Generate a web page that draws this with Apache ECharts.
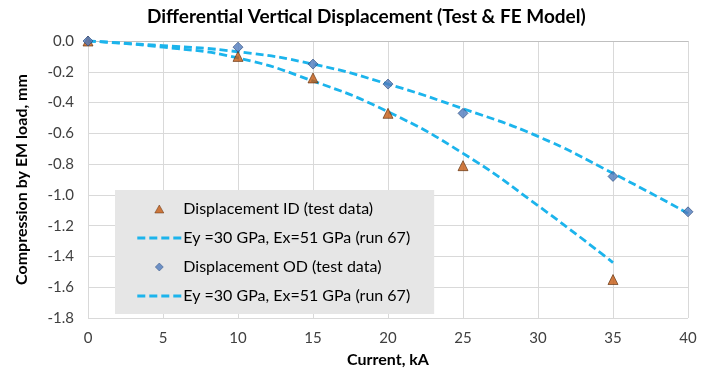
<!DOCTYPE html>
<html>
<head>
<meta charset="utf-8">
<script src="https://cdn.jsdelivr.net/npm/echarts@6/dist/echarts.min.js"></script>
<style>
  html, body { margin: 0; padding: 0; background: #fff; }
  #chart { width: 711px; height: 373px; }
</style>
</head>
<body>
<div id="chart"></div>
<script>
// test data (current kA, displacement mm)
var idTestX = [0, 10, 15, 20, 25, 35];
var idTestY = [0, -0.10, -0.24, -0.47, -0.81, -1.55];
var odTestX = [0, 10, 15, 20, 25, 35, 40];
var odTestY = [0, -0.04, -0.15, -0.28, -0.47, -0.88, -1.11];

// FE model curves (run 67)
var feIdX = [0, 5, 10, 15, 20, 25, 30, 35];
var feIdY = [0, -0.04, -0.11, -0.26, -0.46, -0.73, -1.07, -1.44];
var feOdX = [0, 5, 10, 15, 20, 25, 30, 35, 40];
var feOdY = [0, -0.03, -0.07, -0.15, -0.28, -0.44, -0.62, -0.86, -1.12];

var labels = {
  "idTest": "Displacement ID (test data)",
  "feId": "Ey =30 GPa, Ex=51 GPa (run 67)",
  "odTest": "Displacement OD (test data)",
  "feOd": "Ey =30 GPa, Ex=51 GPa (run 67)"
};

function pairs(xs, ys) {
  return xs.map(function (x, i) { return [x, ys[i]]; });
}

var FONT = "Lato";
var lineColor = "#1cb4ec";
// legend swatches, padded to the full 44x9 icon box so they don't stretch
var dashIcon = "path://M0,3 M44,6 M0,3h8v3h-8z M12,3h8v3h-8z M24,3h8v3h-8z M36,3h8v3h-8z";
var triIcon = "path://M0,0 M44,9 M17.5,8.5 L22,0.5 L26.5,8.5 Z";
var diaIcon = "path://M0,0 M44,9 M22,0.5 L26,4.5 L22,8.5 L18,4.5 Z";

var chart = echarts.init(document.getElementById("chart"));
var option = {
  backgroundColor: "#fff",
  animation: false,
  title: {
    text: "Differential Vertical Displacement (Test & FE Model)",
    left: 142,
    top: 2,
    textStyle: { fontFamily: FONT, fontSize: 19, fontWeight: "bold", color: "#000" }
  },
  grid: { left: 88, right: 23, top: 41, bottom: 48 },
  legend: {
    orient: "vertical",
    left: 115,
    top: 190,
    padding: [11, 24, 10, 22],
    backgroundColor: "#e6e6e6",
    itemWidth: 44,
    itemHeight: 9,
    itemGap: 13,
    data: [
      { name: "idTest", icon: triIcon, itemStyle: { color: "#c55a11", borderColor: "#5a2a08", borderWidth: 0.6 } },
      { name: "feId", icon: dashIcon, itemStyle: { color: lineColor, borderWidth: 0 } },
      { name: "odTest", icon: diaIcon, itemStyle: { color: "#4f7bbd", borderColor: "#2a4a7a", borderWidth: 0.6 } },
      { name: "feOd", icon: dashIcon, itemStyle: { color: lineColor, borderWidth: 0 } }
    ],
    formatter: function (n) { return labels[n]; },
    textStyle: { fontFamily: FONT, fontSize: 16, color: "#000", padding: [0, 0, 0, -3] }
  },
  xAxis: {
    type: "value",
    min: 0, max: 40, interval: 5,
    name: "Current, kA",
    nameLocation: "middle",
    nameGap: 34,
    nameTextStyle: { fontFamily: FONT, fontSize: 16, fontWeight: "bold", color: "#000" },
    axisLine: { show: true, lineStyle: { color: "#bfbfbf" } },
    axisTick: { show: false },
    axisLabel: { fontFamily: FONT, fontSize: 15, color: "#404040", margin: 13 },
    splitLine: { show: true, lineStyle: { color: "#d9d9d9" } }
  },
  yAxis: {
    type: "value",
    min: -1.8, max: 0, interval: 0.2,
    name: "Compression by EM load, mm",
    nameLocation: "middle",
    nameGap: 58,
    nameTextStyle: { fontFamily: FONT, fontSize: 16, fontWeight: "bold", color: "#000" },
    axisLine: { show: false },
    axisTick: { show: false },
    axisLabel: {
      fontFamily: FONT, fontSize: 15, color: "#404040", margin: 14,
      formatter: function (v) { return v.toFixed(1); }
    },
    splitLine: { show: true, lineStyle: { color: "#d9d9d9" } }
  },
  series: [
    {
      name: "feId",
      type: "line",
      smooth: true,
      showSymbol: false,
      symbol: "none",
      data: pairs(feIdX, feIdY),
      lineStyle: { color: lineColor, width: 2.8, type: [8, 4] },
      itemStyle: { color: lineColor },
      z: 2
    },
    {
      name: "feOd",
      type: "line",
      smooth: true,
      showSymbol: false,
      symbol: "none",
      data: pairs(feOdX, feOdY),
      lineStyle: { color: lineColor, width: 2.8, type: [8, 4] },
      itemStyle: { color: lineColor },
      z: 2
    },
    {
      name: "idTest",
      type: "scatter",
      symbol: "triangle",
      symbolSize: 10,
      data: pairs(idTestX, idTestY),
      itemStyle: { color: "#c55a11", borderColor: "#5a2a08", borderWidth: 0.8 },
      z: 3
    },
    {
      name: "odTest",
      type: "scatter",
      symbol: "diamond",
      symbolSize: 10,
      data: pairs(odTestX, odTestY),
      itemStyle: { color: "#4f7bbd", borderColor: "#2a4a7a", borderWidth: 0.8 },
      z: 3
    }
  ]
};
chart.setOption(option);
</script>
</body>
</html>
